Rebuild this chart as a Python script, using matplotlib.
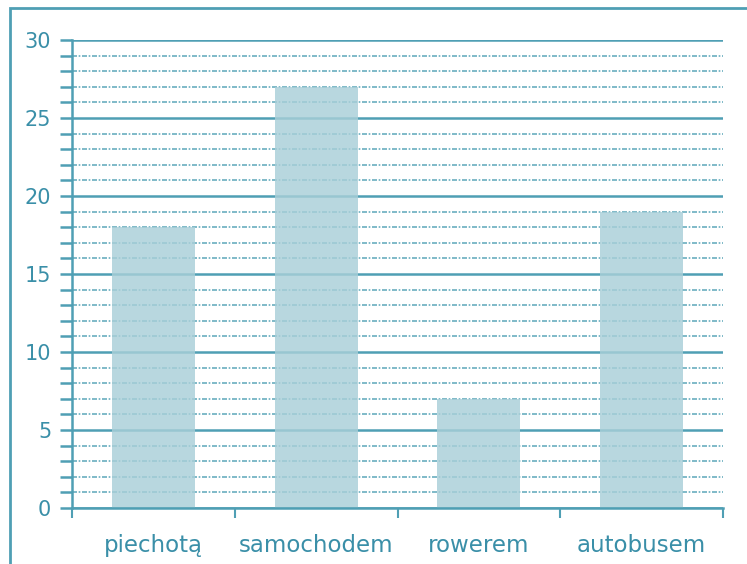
import matplotlib.pyplot as plt
from matplotlib.patches import Rectangle
from matplotlib.ticker import MultipleLocator

categories = ['piechotą', 'samochodem', 'rowerem', 'autobusem']
values = [18, 27, 7, 19]

line_col = '#4f9fb4'
text_col = '#3a8fa8'
bar_col = '#a9cfd8'

fig = plt.figure(figsize=(7.47, 5.64), dpi=100)
ax = fig.add_axes([0.0964, 0.0993, 0.8716, 0.8298])

x = range(len(categories))
ax.bar(x, values, width=0.51, color=bar_col, alpha=0.82, zorder=3)

ax.set_xlim(-0.5, len(categories) - 0.5)
ax.set_ylim(0, 30)
ax.yaxis.set_minor_locator(MultipleLocator(1))
ax.set_yticks([i for i in range(0, 31, 5)])
ax.set_yticklabels([str(i) for i in range(0, 31, 5)])

# category ticks sit between bars, labels in the middle
ax.set_xticks([i - 0.5 for i in range(len(categories) + 1)])
ax.set_xticklabels([''] * (len(categories) + 1))
ax.set_xticks(list(x), minor=True)
ax.set_xticklabels(categories, minor=True)
ax.tick_params(axis='x', which='minor', length=0, pad=19, labelsize=16.5, labelcolor=text_col)
ax.tick_params(axis='x', which='major', length=7, width=1.5, color=line_col, direction='out')
ax.tick_params(axis='y', which='both', length=9, width=1.8, color=line_col, pad=6,
               labelsize=15, labelcolor=text_col)

ax.grid(axis='y', which='major', color=line_col, lw=1.8, zorder=1)
ax.grid(axis='y', which='minor', color=line_col, lw=1.2, alpha=0.85,
        ls=(0, (3, 1, 1, 1)), zorder=1)
ax.set_axisbelow(True)

for s in ['top', 'right']:
    ax.spines[s].set_visible(False)
for s in ['left', 'bottom']:
    ax.spines[s].set_color(line_col)
    ax.spines[s].set_linewidth(1.8)
    ax.spines[s].set_zorder(5)

fig.patches.append(Rectangle((10 / 747, -0.1), 1.2, (564 - 8) / 564 + 0.1,
                             transform=fig.transFigure, fill=False,
                             edgecolor=line_col, lw=2))

fig.savefig('out.png', dpi=100)
